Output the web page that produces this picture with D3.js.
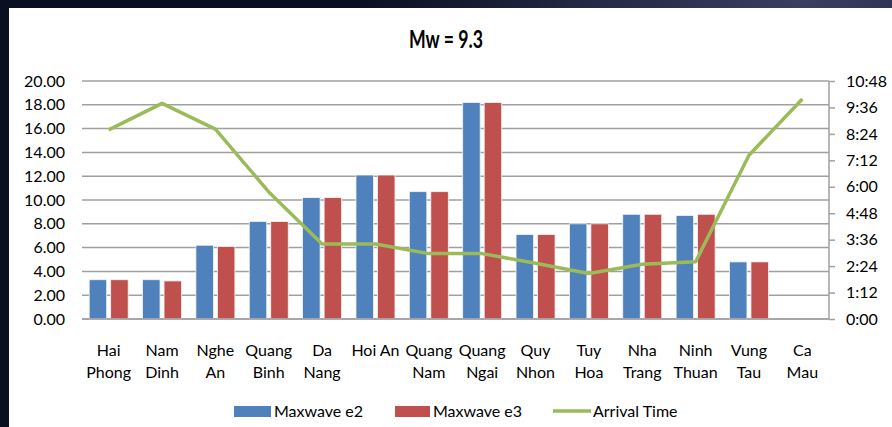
<!DOCTYPE html>
<html><head><meta charset="utf-8">
<script src="https://cdn.jsdelivr.net/npm/d3@7"></script>
<style>
html,body{margin:0;padding:0;background:#0a0f22;}
svg{display:block;}
text{font-family:"Lato","Open Sans",sans-serif;}
</style></head>
<body>
<svg id="chart" width="892" height="427"></svg>
<script>
const categories = [["Hai","Phong"],["Nam","Dinh"],["Nghe","An"],["Quang","Binh"],["Da","Nang"],["Hoi An",""],["Quang","Nam"],["Quang","Ngai"],["Quy","Nhon"],["Tuy","Hoa"],["Nha","Trang"],["Ninh","Thuan"],["Vung","Tau"],["Ca","Mau"]];
const maxwaveE2 = [3.3, 3.3, 6.2, 8.2, 10.2, 12.1, 10.7, 18.2, 7.1, 8.0, 8.8, 8.7, 4.8, null];
const maxwaveE3 = [3.3, 3.2, 6.1, 8.2, 10.2, 12.1, 10.7, 18.2, 7.1, 8.0, 8.8, 8.8, 4.8, null];
// arrival time in minutes
const arrivalTime = [515, 587, 517, 346, 204, 204, 178, 178, 152, 124, 149, 156, 446, 599];
const leftTicks = [0,2,4,6,8,10,12,14,16,18,20];
const rightTicks = [0,72,144,216,288,360,432,504,576,648];
const seriesNames = ["Maxwave e2","Maxwave e3","Arrival Time"];
const colors = ["#4F81BD","#C0504D","#9BBB59"];

const svg = d3.select("#chart");
const defs = svg.append("defs");
const g1 = defs.append("radialGradient").attr("id","neb").attr("cx","0.9").attr("cy","0.0").attr("r","0.5");
g1.append("stop").attr("offset","0").attr("stop-color","#3a3f63");
g1.append("stop").attr("offset","1").attr("stop-color","#0a0f22");
svg.append("rect").attr("width",892).attr("height",427).attr("fill","url(#neb)");
svg.append("rect").attr("x",9).attr("y",8).attr("width",883).attr("height",419).attr("fill","#ffffff");

const L = 82, R = 829, T = 81, B = 319;
const x = d3.scaleBand().domain(d3.range(categories.length)).range([L,R]).paddingInner(0).paddingOuter(0);
const y = d3.scaleLinear().domain([0,20]).range([B,T]);
const y2 = d3.scaleLinear().domain([0,648]).range([B,T]);
const fmt2 = m => Math.floor(m/60)+":"+String(m%60).padStart(2,"0");

svg.append("g").selectAll("line").data(leftTicks).join("line")
  .attr("x1",L).attr("x2",R).attr("y1",d=>y(d)).attr("y2",d=>y(d))
  .attr("stroke","#a0a0a0").attr("stroke-width",1.5);

const ax = d3.axisLeft(y).tickValues(leftTicks).tickFormat(d=>d.toFixed(2)).tickSize(0).tickPadding(17);
const gl = svg.append("g").attr("transform",`translate(${L},0)`).call(ax);
gl.select(".domain").remove();
gl.selectAll("text").attr("font-size",16).attr("fill","#000").attr("font-family","Lato, sans-serif");

const ax2 = d3.axisRight(y2).tickValues(rightTicks).tickFormat(fmt2).tickSize(6).tickPadding(11);
const gr = svg.append("g").attr("transform",`translate(${R},0)`).call(ax2);
gr.select(".domain").attr("stroke","#a0a0a0").attr("stroke-width",1.5).attr("d",`M0,${T}V${B}`);
gr.selectAll("line").attr("stroke","#a0a0a0").attr("stroke-width",1.5);
gr.selectAll("text").attr("font-size",16).attr("fill","#000").attr("font-family","Lato, sans-serif");

const bw = 17.5, gap = 4;
const barG = svg.append("g");
[maxwaveE2, maxwaveE3].forEach((vals,si)=>{
  barG.append("g").selectAll("rect").data(vals.map((v,i)=>({v,i})).filter(d=>d.v!=null)).join("rect")
    .attr("x",d=>x(d.i)+x.bandwidth()/2 - bw - gap/2 + si*(bw+gap))
    .attr("y",d=>y(d.v)).attr("width",bw).attr("height",d=>B-y(d.v))
    .attr("fill",colors[si]).attr("stroke","#f4f4f4").attr("stroke-width",0.8);
});
svg.append("line").attr("x1",L).attr("x2",R).attr("y1",B).attr("y2",B).attr("stroke","#a0a0a0").attr("stroke-width",1.5);

const line = d3.line().x((d,i)=>x(i)+x.bandwidth()/2).y(d=>y2(d));
svg.append("path").datum(arrivalTime).attr("d",line).attr("fill","none")
  .attr("stroke",colors[2]).attr("stroke-width",3.5).attr("stroke-linejoin","round");

const cl = svg.append("g");
categories.forEach((c,i)=>{
  const cx = x(i)+x.bandwidth()/2;
  const t = cl.append("text").attr("x",cx).attr("y",356)
    .attr("text-anchor","middle").attr("font-size",16).attr("fill","#000");
  t.append("tspan").attr("x",cx).attr("dy",0).text(c[0]);
  if (c[1]) t.append("tspan").attr("x",cx).attr("dy",22).text(c[1]);
});

svg.append("text").attr("x",446).attr("y",48).attr("text-anchor","middle")
  .attr("font-size",25).attr("font-weight","bold").attr("fill","#000")
  .attr("textLength",74).attr("lengthAdjust","spacingAndGlyphs").text("Mw = 9.3");

const lg = svg.append("g");
lg.append("rect").attr("x",234).attr("y",406).attr("width",37).attr("height",11).attr("fill",colors[0]);
lg.append("text").attr("x",274).attr("y",417).attr("font-size",16).text(seriesNames[0]);
lg.append("rect").attr("x",395).attr("y",406).attr("width",35).attr("height",11).attr("fill",colors[1]);
lg.append("text").attr("x",433).attr("y",417).attr("font-size",16).text(seriesNames[1]);
lg.append("line").attr("x1",553).attr("x2",591).attr("y1",411).attr("y2",411).attr("stroke",colors[2]).attr("stroke-width",3.5);
lg.append("text").attr("x",593).attr("y",417).attr("font-size",16).text(seriesNames[2]);
</script>
</body></html>
